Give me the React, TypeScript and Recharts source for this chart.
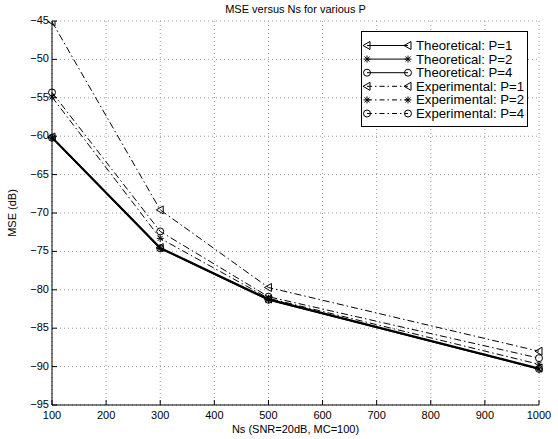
import React from "react";
import { LineChart, Line, XAxis, YAxis, CartesianGrid } from "recharts";

const NS = [100, 300, 500, 1000];
const THEO_P1 = [-60.1, -74.5, -81.2, -90.2];
const THEO_P2 = [-60.2, -74.6, -81.3, -90.3];
const THEO_P4 = [-60.2, -74.6, -81.3, -90.3];
const EXP_P1 = [-45.1, -69.6, -79.7, -88.0];
const EXP_P2 = [-54.9, -73.3, -81.1, -89.7];
const EXP_P4 = [-54.3, -72.4, -80.9, -88.9];

const X_TICKS = [100, 200, 300, 400, 500, 600, 700, 800, 900, 1000];
const Y_TICKS = [-95, -90, -85, -80, -75, -70, -65, -60, -55, -50, -45];

const DATA = NS.map((ns, i) => ({
  ns,
  t1: THEO_P1[i],
  t2: THEO_P2[i],
  t4: THEO_P4[i],
  e1: EXP_P1[i],
  e2: EXP_P2[i],
  e4: EXP_P4[i],
}));

const FONT = "'Liberation Sans', Arial, Helvetica, sans-serif";
const DASHDOT = "7 3 1.5 3";

type Marker = "tri" | "star" | "circ";

function drawMarker(kind: Marker, cx: number, cy: number, key?: string | number) {
  if (kind === "tri") {
    return (
      <polygon
        key={key}
        points={`${cx - 4},${cy} ${cx + 3},${cy - 4} ${cx + 3},${cy + 4}`}
        fill="none"
        stroke="#000"
        strokeWidth={1}
      />
    );
  }
  if (kind === "circ") {
    return <circle key={key} cx={cx} cy={cy} r={3.5} fill="none" stroke="#000" strokeWidth={1} />;
  }
  const r = 3.5;
  const d = r * 0.72;
  return (
    <g key={key} stroke="#000" strokeWidth={1}>
      <line x1={cx - r} y1={cy} x2={cx + r} y2={cy} />
      <line x1={cx} y1={cy - r} x2={cx} y2={cy + r} />
      <line x1={cx - d} y1={cy - d} x2={cx + d} y2={cy + d} />
      <line x1={cx - d} y1={cy + d} x2={cx + d} y2={cy - d} />
    </g>
  );
}

const dotOf = (kind: Marker) => (props: any) => {
  const { cx, cy, index } = props;
  if (cx == null || cy == null) return <g key={index} />;
  return drawMarker(kind, cx, cy, index);
};

const fmt = (v: number) => String(v).replace("-", "\u2212");

const BottomTick = (props: any) => {
  const { x, y, payload } = props;
  return (
    <g>
      <line x1={x} y1={y} x2={x} y2={y - 5} stroke="#000" />
      <text x={x} y={y + 14} textAnchor="middle" fontSize={11} fontFamily={FONT} fill="#000">
        {payload.value}
      </text>
    </g>
  );
};

const TopTick = (props: any) => {
  const { x, y } = props;
  return <line x1={x} y1={y} x2={x} y2={y + 5} stroke="#000" />;
};

const LeftTick = (props: any) => {
  const { x, y, payload } = props;
  return (
    <g>
      <line x1={x} y1={y} x2={x + 5} y2={y} stroke="#000" />
      <text x={x - 3} y={y + 3} textAnchor="end" fontSize={11} fontFamily={FONT} fill="#000">
        {fmt(payload.value)}
      </text>
    </g>
  );
};

const RightTick = (props: any) => {
  const { x, y } = props;
  return <line x1={x} y1={y} x2={x - 5} y2={y} stroke="#000" />;
};

const LEGEND_ROWS: { label: string; kind: Marker; dash?: string }[] = [
  { label: "Theoretical: P=1", kind: "tri" },
  { label: "Theoretical: P=2", kind: "star" },
  { label: "Theoretical: P=4", kind: "circ" },
  { label: "Experimental: P=1", kind: "tri", dash: DASHDOT },
  { label: "Experimental: P=2", kind: "star", dash: DASHDOT },
  { label: "Experimental: P=4", kind: "circ", dash: DASHDOT },
];

function LegendBox() {
  return (
    <svg width={167} height={96} style={{ display: "block" }}>
      <rect x={0.5} y={0.5} width={166} height={95} fill="#fff" stroke="#000" strokeWidth={1} />
      {LEGEND_ROWS.map((r, i) => {
        const y = 14.5 + i * 13.6;
        return (
          <g key={r.label}>
            <line
              x1={6}
              y1={y}
              x2={47}
              y2={y}
              stroke="#000"
              strokeWidth={1}
              strokeDasharray={r.dash ? "5 3 1.5 3" : undefined}
            />
            {drawMarker(r.kind, 6, y)}
            {drawMarker(r.kind, 47, y)}
            <text x={55} y={y + 4.5} fontSize={13.2} fontFamily={FONT} fill="#000">
              {r.label}
            </text>
          </g>
        );
      })}
    </svg>
  );
}

export default function App() {
  return (
    <div style={{ position: "absolute", left: 0, top: 0, width: 558, height: 439, background: "#fff" }}>
      <LineChart width={558} height={439} data={DATA} margin={{ top: 21, right: 19, bottom: 0, left: 0 }}>
        <CartesianGrid
          stroke="#999"
          strokeDasharray="1 3"
          horizontalValues={Y_TICKS}
          verticalValues={X_TICKS}
        />
        <XAxis
          dataKey="ns"
          type="number"
          domain={[100, 1000]}
          ticks={X_TICKS}
          height={34}
          tickSize={0}
          tickMargin={0}
          tickLine={false}
          axisLine={{ stroke: "#000" }}
          tick={BottomTick}
          interval={0}
        />
        <XAxis
          xAxisId="top"
          orientation="top"
          dataKey="ns"
          type="number"
          domain={[100, 1000]}
          ticks={X_TICKS}
          height={0}
          tickSize={0}
          tickMargin={0}
          tickLine={false}
          axisLine={{ stroke: "#000" }}
          tick={TopTick}
          interval={0}
        />
        <YAxis
          type="number"
          domain={[-95, -45]}
          ticks={Y_TICKS}
          width={52}
          tickSize={0}
          tickMargin={0}
          tickLine={false}
          axisLine={{ stroke: "#000" }}
          tick={LeftTick}
          interval={0}
          allowDataOverflow
        />
        <YAxis
          yAxisId="right"
          orientation="right"
          type="number"
          domain={[-95, -45]}
          ticks={Y_TICKS}
          width={0}
          tickSize={0}
          tickMargin={0}
          tickLine={false}
          axisLine={{ stroke: "#000" }}
          tick={RightTick}
          interval={0}
        />
        <Line dataKey="e1" stroke="#000" strokeWidth={1} strokeDasharray={DASHDOT} dot={dotOf("tri")} isAnimationActive={false} />
        <Line dataKey="e2" stroke="#000" strokeWidth={1} strokeDasharray={DASHDOT} dot={dotOf("star")} isAnimationActive={false} />
        <Line dataKey="e4" stroke="#000" strokeWidth={1} strokeDasharray={DASHDOT} dot={dotOf("circ")} isAnimationActive={false} />
        <Line dataKey="t1" stroke="#000" strokeWidth={1.5} dot={dotOf("tri")} isAnimationActive={false} />
        <Line dataKey="t2" stroke="#000" strokeWidth={1.5} dot={dotOf("star")} isAnimationActive={false} />
        <Line dataKey="t4" stroke="#000" strokeWidth={1.5} dot={dotOf("circ")} isAnimationActive={false} />
        <text x={295.5} y={13} textAnchor="middle" fontSize={11} fontFamily={FONT} fill="#000">
          MSE versus Ns for various P
        </text>
        <text x={295.5} y={433} textAnchor="middle" fontSize={11} fontFamily={FONT} fill="#000">
          Ns (SNR=20dB, MC=100)
        </text>
        <text
          x={16}
          y={213}
          textAnchor="middle"
          fontSize={11}
          fontFamily={FONT}
          fill="#000"
          transform="rotate(-90 16 213)"
        >
          MSE (dB)
        </text>
      </LineChart>
      <div style={{ position: "absolute", left: 361, top: 31 }}>
        <LegendBox />
      </div>
    </div>
  );
}
